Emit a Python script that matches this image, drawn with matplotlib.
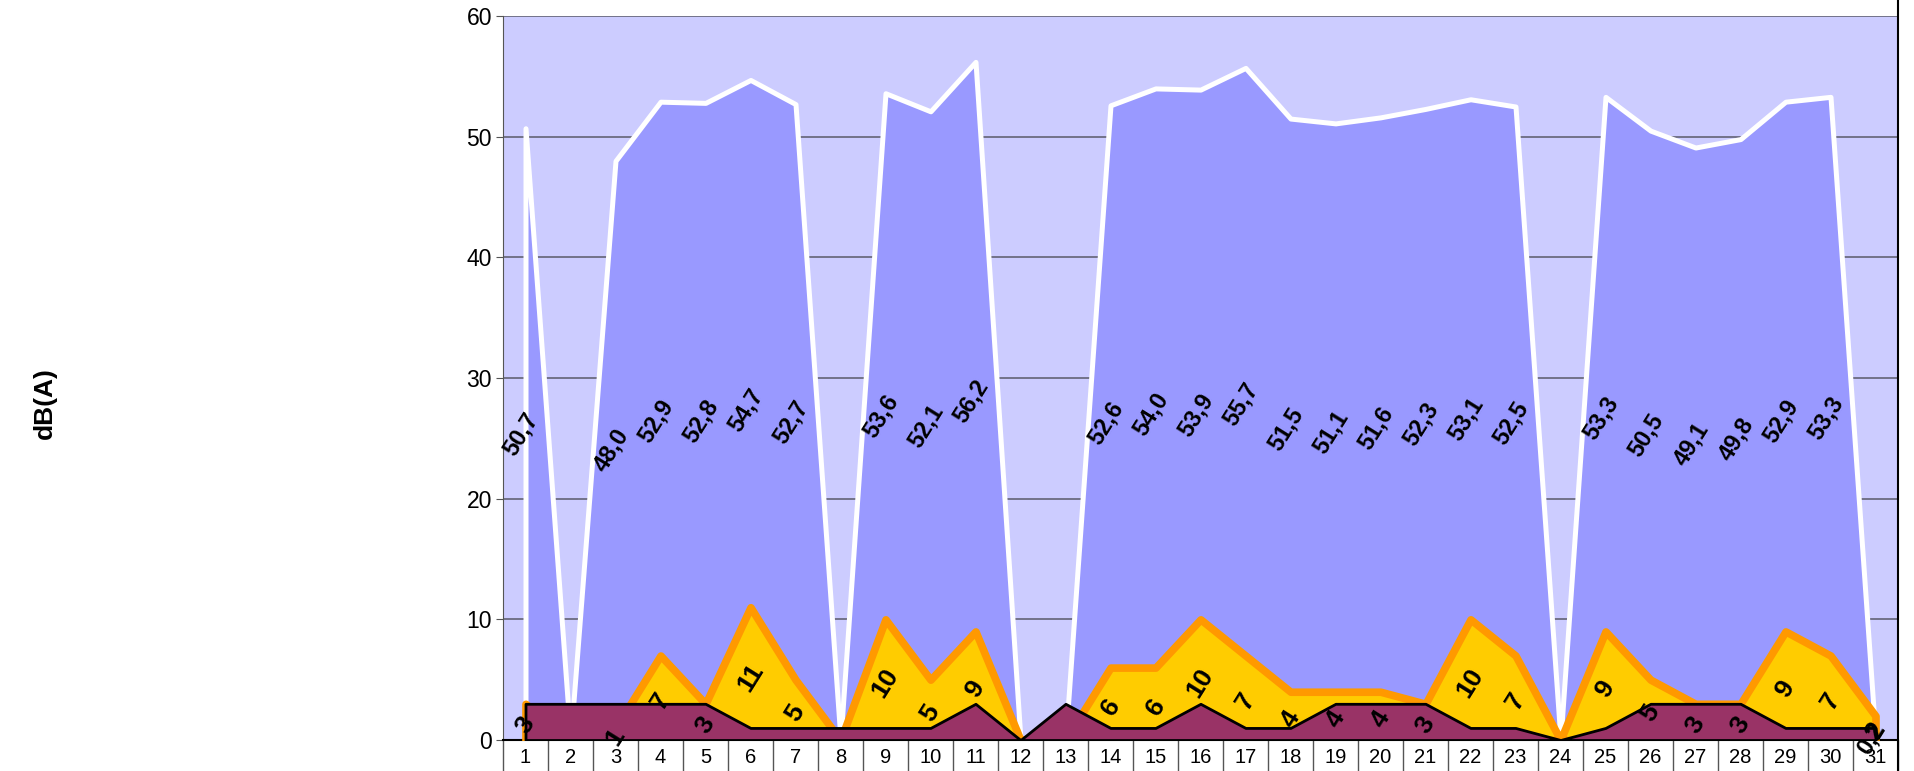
import numpy as np
import matplotlib.pyplot as plt
from matplotlib.lines import Line2D

plt.rcParams['font.family'] = ['Liberation Sans', 'DejaVu Sans']

### DATA ###
days = list(range(1, 32))

# daily level dB(A); None = no measurement
leq = [50.7, None, 48.0, 52.9, 52.8, 54.7, 52.7, None, 53.6, 52.1, 56.2,
       None, None, 52.6, 54.0, 53.9, 55.7, 51.5, 51.1, 51.6, 52.3, 53.1,
       52.5, None, 53.3, 50.5, 49.1, 49.8, 52.9, 53.3, 0.2]

# yellow series
yel = [3, None, 1, 7, 3, 11, 5, None, 10, 5, 9,
       None, None, 6, 6, 10, 7, 4, 4, 4, 3, 10,
       7, None, 9, 5, 3, 3, 9, 7, 2]

# purple series (no labels)
pur = [3, 3, 3, 3, 3, 1, 1, 1, 1, 1, 3,
       0, 3, 1, 1, 3, 1, 1, 3, 3, 3, 1,
       1, 0, 1, 3, 3, 3, 1, 1, 1]


def to_arr(vals):
    return np.array([0.0 if v is None else v for v in vals])


x = np.array(days)

fig = plt.figure(figsize=(19.14, 7.71), dpi=100)
ax = fig.add_axes([503/1914, 31/771, (1898-503)/1914, (740-16)/771])
ax.set_facecolor('#CCCCFF')

# grid
ax.set_ylim(0, 60)
ax.set_xlim(0.5, 31.5)
ax.yaxis.set_major_locator(plt.MultipleLocator(10))
ax.grid(axis='y', color='#5a5a6a', linewidth=1.1, zorder=0.5)
ax.set_axisbelow(True)

# areas (back to front)
ax.fill_between(x, 0, to_arr(leq),
                facecolor='#9999FF',
                edgecolor='white',
                linewidth=3.6,
                joinstyle='round',
                zorder=2)
ax.fill_between(x, 0, to_arr(yel),
                facecolor='#FFCC00',
                edgecolor='#FF9900',
                linewidth=5.5,
                joinstyle='round',
                zorder=3)
ax.fill_between(x, 0, to_arr(pur),
                facecolor='#993366',
                edgecolor='black',
                linewidth=2,
                joinstyle='round',
                zorder=4)

# data labels
for d, v in zip(days, leq):
    if v is None:
        continue
    ax.text(d - 0.1, v/2, f'{v:.1f}'.replace('.', ','),
            rotation=58, rotation_mode='anchor',
            ha='center', va='center',
            fontsize=17, fontweight='bold', zorder=6)

for d, v in zip(days, yel):
    if v is None:
        continue
    ax.text(d, v/2 - 0.3, str(v),
            rotation=58, rotation_mode='anchor',
            ha='center', va='center',
            fontsize=19, fontweight='bold', zorder=6)

# axes styling
for s in ['top', 'right']:
    ax.spines[s].set_visible(False)
ax.spines['left'].set_color('#555555')
ax.spines['bottom'].set_color('black')
ax.spines['bottom'].set_linewidth(1.5)

ax.set_xticks(days)
ax.set_xticklabels([str(d) for d in days])
ax.set_xticks(np.arange(0.5, 32, 1), minor=True)
ax.tick_params(axis='x', which='major', length=0, pad=6, labelsize=14.5)
ax.tick_params(axis='x', which='minor', length=25, color='#555555', width=1)
ax.tick_params(axis='y', length=5, color='#555555', labelsize=16.5, pad=3)

fig.text(45/1914, 1 - 403/771, 'dB(A)', rotation=90,
         ha='center', va='center', fontsize=19, fontweight='bold')

# chart border on the right
fig.add_artist(Line2D([1898/1914, 1898/1914], [0, 1],
                      transform=fig.transFigure, color='black', linewidth=1.5))

fig.savefig('out.png', dpi=100)
